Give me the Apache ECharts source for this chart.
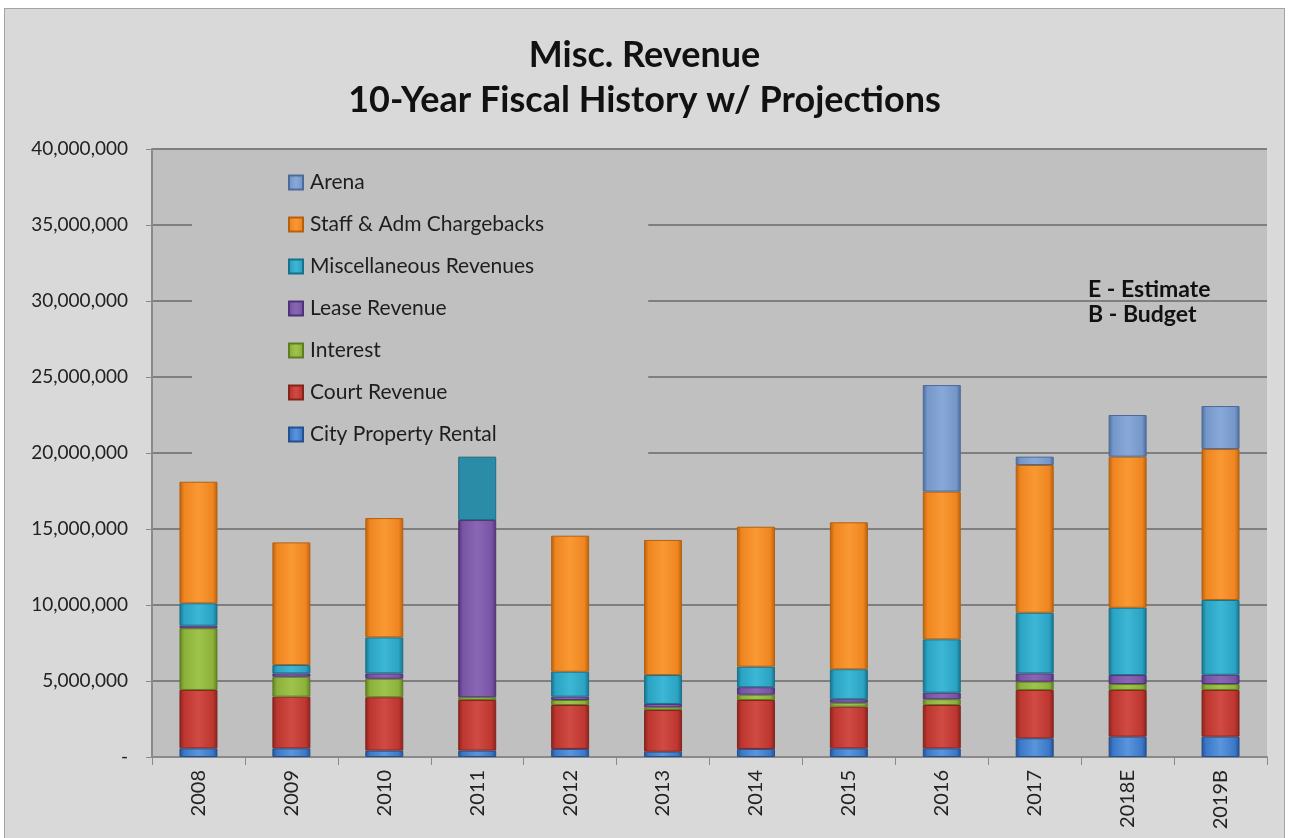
<!DOCTYPE html>
<html>
<head>
<meta charset="utf-8">
<title>Misc. Revenue</title>
<script src="https://cdn.jsdelivr.net/npm/echarts@6/dist/echarts.min.js"></script>
<style>
  html, body { margin: 0; padding: 0; background: #ffffff; overflow: hidden; }
  #chart {
    position: absolute; left: 4px; top: 8px;
    width: 1279px; height: 840px;
    border: 1px solid #a3a3a3;
    background: #d9d9d9;
  }
</style>
</head>
<body>
<div id="chart"></div>
<script>
// Fiscal years (E = estimate, B = budget)
const years = ['2008', '2009', '2010', '2011', '2012', '2013', '2014', '2015', '2016', '2017', '2018E', '2019B'];

// Revenue by source, dollars
const cityPropertyRental = [570000, 570000, 420000, 420000, 530000, 350000, 530000, 570000, 570000, 1230000, 1340000, 1340000];
const courtRevenue       = [3840000, 3400000, 3510000, 3330000, 2890000, 2740000, 3220000, 2740000, 2850000, 3180000, 3070000, 3070000];
const interest           = [4060000, 1310000, 1220000, 180000, 330000, 180000, 350000, 260000, 380000, 550000, 390000, 390000];
const leaseRevenue       = [170000, 220000, 350000, 11660000, 220000, 220000, 490000, 230000, 430000, 540000, 590000, 610000];
const miscRevenues       = [1470000, 550000, 2370000, 4170000, 1640000, 1900000, 1350000, 1970000, 3510000, 3990000, 4430000, 4920000];
const staffChargebacks   = [8000000, 8070000, 7850000, 0, 8950000, 8890000, 9210000, 9670000, 9720000, 9720000, 9940000, 9930000];
const arena              = [0, 0, 0, 0, 0, 0, 0, 0, 7010000, 550000, 2740000, 2830000];

// Y axis ticks
const yMin = 0, yMax = 40000000, yStep = 5000000;

const FONT = 'Lato, "Open Sans", sans-serif';

// Sheen across the bar width: darker edges, lighter middle
function sheen(dark, base, light) {
  return {
    type: 'linear', x: 0, y: 0, x2: 1, y2: 0,
    colorStops: [
      { offset: 0, color: dark },
      { offset: 0.12, color: base },
      { offset: 0.5, color: light },
      { offset: 0.88, color: base },
      { offset: 1, color: dark }
    ]
  };
}

const seriesDefs = [
  { name: 'City Property Rental',    data: cityPropertyRental, c: ['#24508c', '#3a78c9', '#5a95dc'] },
  { name: 'Court Revenue',           data: courtRevenue,       c: ['#85231d', '#bd3630', '#cf4b43'] },
  { name: 'Interest',                data: interest,           c: ['#5e7d22', '#8bb13a', '#9fc44c'] },
  { name: 'Lease Revenue',           data: leaseRevenue,       c: ['#4f3378', '#7954a5', '#8a67b5'] },
  { name: 'Miscellaneous Revenues',  data: miscRevenues,       c: ['#17718a', '#2ba3c3', '#3db7d6'] },
  { name: 'Staff & Adm Chargebacks', data: staffChargebacks,   c: ['#b5600f', '#ef851f', '#f99934'] },
  { name: 'Arena',                   data: arena,              c: ['#4c6a9a', '#7597c9', '#88a9d8'] }
];

const series = seriesDefs.map(function (d) {
  return {
    name: d.name,
    type: 'bar',
    stack: 'total',
    barWidth: 38,
    itemStyle: {
      color: sheen(d.c[0], d.c[1], d.c[2]),
      borderColor: d.c[0],
      borderWidth: 1
    },
    data: d.data.map(function (v, i) {
      if (!v) return null;
      // 2011 misc revenues appear in a flat, darker teal
      if (d.name === 'Miscellaneous Revenues' && years[i] === '2011') {
        return { value: v, itemStyle: { color: '#2a8ca6', borderColor: '#1d6c80' } };
      }
      return v;
    })
  };
});

const chart = echarts.init(document.getElementById('chart'), null, { renderer: 'canvas' });

const titleStyle = { fontFamily: FONT, fontWeight: 'bold', fontSize: 36, lineHeight: 40, color: '#111' };

chart.setOption({
  backgroundColor: '#d9d9d9',
  animation: false,
  textStyle: { fontFamily: FONT },
  title: [
    { text: 'Misc. Revenue', left: 'center', top: 21, textStyle: titleStyle },
    { text: '10-Year Fiscal History w/ Projections', left: 'center', top: 66, textStyle: titleStyle },
    {
      text: 'E - Estimate\nB - Budget',
      left: 1078,
      top: 263,
      textStyle: { fontFamily: FONT, fontWeight: 'bold', fontSize: 23, lineHeight: 25, color: '#111' }
    }
  ],
  legend: {
    orient: 'vertical',
    left: 187,
    top: 151,
    padding: [12, 104, 11, 96],
    backgroundColor: '#c0c0c0',
    itemWidth: 14,
    itemHeight: 14,
    itemGap: 21,
    icon: 'rect',
    textStyle: { fontFamily: FONT, fontSize: 21, lineHeight: 21, color: '#1e1e1e', padding: [0, 0, 0, 2] },
    data: ['Arena', 'Staff & Adm Chargebacks', 'Miscellaneous Revenues', 'Lease Revenue', 'Interest', 'Court Revenue', 'City Property Rental'],
    selectedMode: false
  },
  grid: {
    left: 147,
    top: 140,
    width: 1115,
    height: 608,
    show: true,
    backgroundColor: '#c0c0c0',
    borderWidth: 0
  },
  xAxis: {
    type: 'category',
    data: years,
    axisLine: { lineStyle: { color: '#8a8a8a', width: 2 } },
    axisTick: { show: true, length: 8, lineStyle: { color: '#8a8a8a', width: 1 } },
    axisLabel: { rotate: 90, margin: 13, fontFamily: FONT, fontSize: 20, color: '#222' }
  },
  yAxis: {
    type: 'value',
    min: yMin,
    max: yMax,
    interval: yStep,
    axisLine: { show: true, lineStyle: { color: '#8a8a8a', width: 2 } },
    axisTick: { show: true, length: 6, lineStyle: { color: '#8a8a8a' } },
    splitLine: { show: true, lineStyle: { color: '#7f7f7f', width: 2 } },
    axisLabel: {
      margin: 24,
      fontFamily: FONT,
      fontSize: 19,
      color: '#222',
      formatter: function (v) { return v === 0 ? '-' : v.toLocaleString('en-US'); }
    }
  },
  series: series
});
</script>
</body>
</html>
